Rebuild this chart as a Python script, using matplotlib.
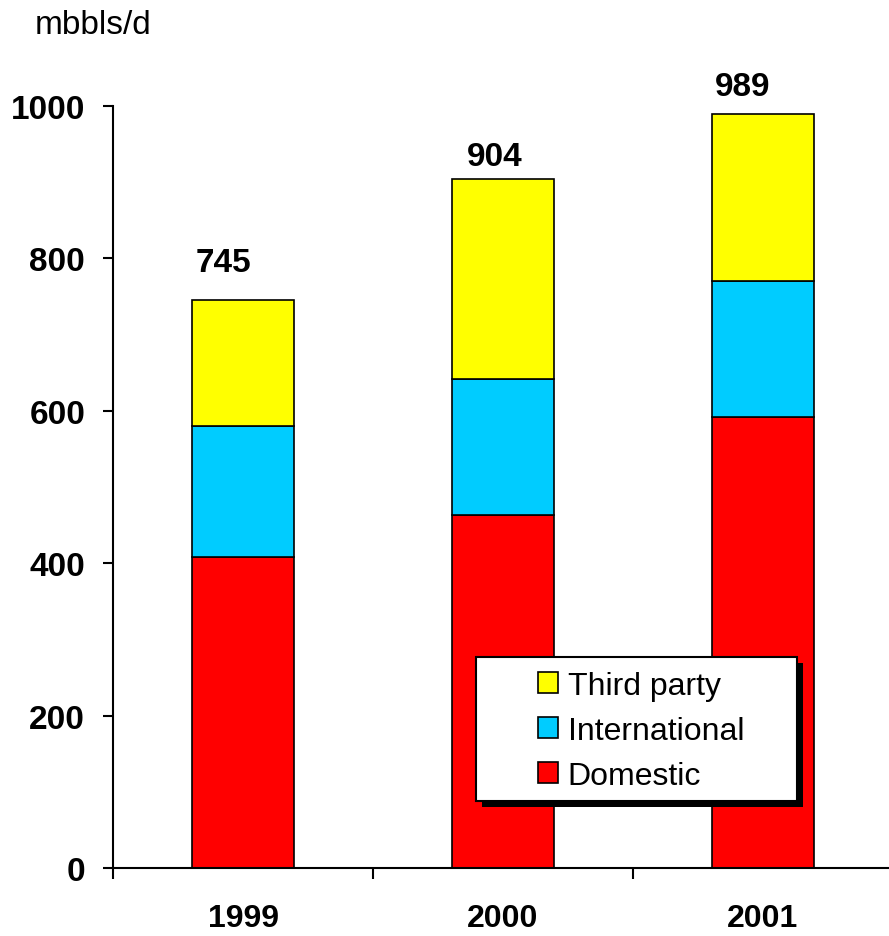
import numpy as np
import matplotlib.pyplot as plt
from matplotlib.patches import Rectangle
from matplotlib.transforms import IdentityTransform

plt.rcParams['font.family'] = ['Liberation Sans', 'DejaVu Sans']

years = ['1999', '2000', '2001']
domestic = [408, 463, 592]
international = [172, 179, 178]
third_party = [165, 262, 219]
totals = [745, 904, 989]

colors = {'Domestic': '#ff0000', 'International': '#00ccff', 'Third party': '#ffff00'}

W, H = 889, 937
fig = plt.figure(figsize=(W / 100, H / 100), dpi=100)
# axes box in pixels: x 113..893, y 107..869 (from top)
ax = fig.add_axes([113 / W, (H - 869) / H, 780 / W, 762 / H])

x = np.arange(len(years))
bw = 0.39
dom = np.array(domestic)
intl = np.array(international)
tp = np.array(third_party)

b1 = ax.bar(x, dom, bw, color=colors['Domestic'], edgecolor='black', linewidth=1.2, label='Domestic')
b2 = ax.bar(x, intl, bw, bottom=dom, color=colors['International'], edgecolor='black', linewidth=1.2, label='International')
b3 = ax.bar(x, tp, bw, bottom=dom + intl, color=colors['Third party'], edgecolor='black', linewidth=1.2, label='Third party')

# total labels above each stack
dx = [-14, -6, -15]
dy = [16, 5, 9]
for i, t in enumerate(totals):
    ax.annotate(str(t), (x[i], t), xytext=(dx[i], dy[i]), textcoords='offset points',
                ha='center', va='bottom', fontsize=24, fontweight='bold')

ax.set_xlim(-0.5, 2.5)
ax.set_ylim(0, 1000)
ax.set_yticks([0, 200, 400, 600, 800, 1000])
ax.set_xticks(x)
ax.set_xticklabels(years)
ax.set_xticks([-0.5, 0.5, 1.5], minor=True)

for s in ['top', 'right']:
    ax.spines[s].set_visible(False)
for s in ['left', 'bottom']:
    ax.spines[s].set_linewidth(1.5)

ax.tick_params(axis='y', direction='out', length=7, width=1.5, pad=13, labelsize=24)
ax.tick_params(axis='x', which='major', length=0, pad=25, labelsize=23)
ax.tick_params(axis='x', which='minor', direction='out', length=8, width=1.5)
for lab in ax.get_xticklabels() + ax.get_yticklabels():
    lab.set_fontweight('bold')

fig.text(35 / W, 1 - 34 / H, 'mbbls/d', fontsize=24, ha='left', va='baseline')

# legend entries without frame; the frame and its shadow are drawn around them
leg = ax.legend(handles=[b3, b2, b1], loc='upper left',
                bbox_to_anchor=((538 - 113) / 780, (869 - 672) / 762),
                borderaxespad=0, frameon=False, fontsize=23,
                handlelength=0.62, handleheight=0.62, handletextpad=0.31,
                labelspacing=0.47, borderpad=0)
leg.set_zorder(7)

fig.canvas.draw()
bb = leg.get_window_extent()
fx0, fx1 = bb.x0 - 62, bb.x1 + 53
fy0, fy1 = bb.y0 - 10, bb.y1 + 14
ax.add_patch(Rectangle((fx0 + 6, fy0 - 6), fx1 - fx0, fy1 - fy0, transform=IdentityTransform(),
                       facecolor='black', edgecolor='none', zorder=5, clip_on=False))
ax.add_patch(Rectangle((fx0, fy0), fx1 - fx0, fy1 - fy0, transform=IdentityTransform(),
                       facecolor='white', edgecolor='black', linewidth=1.5, zorder=6, clip_on=False))

fig.savefig('out.png', dpi=100)
